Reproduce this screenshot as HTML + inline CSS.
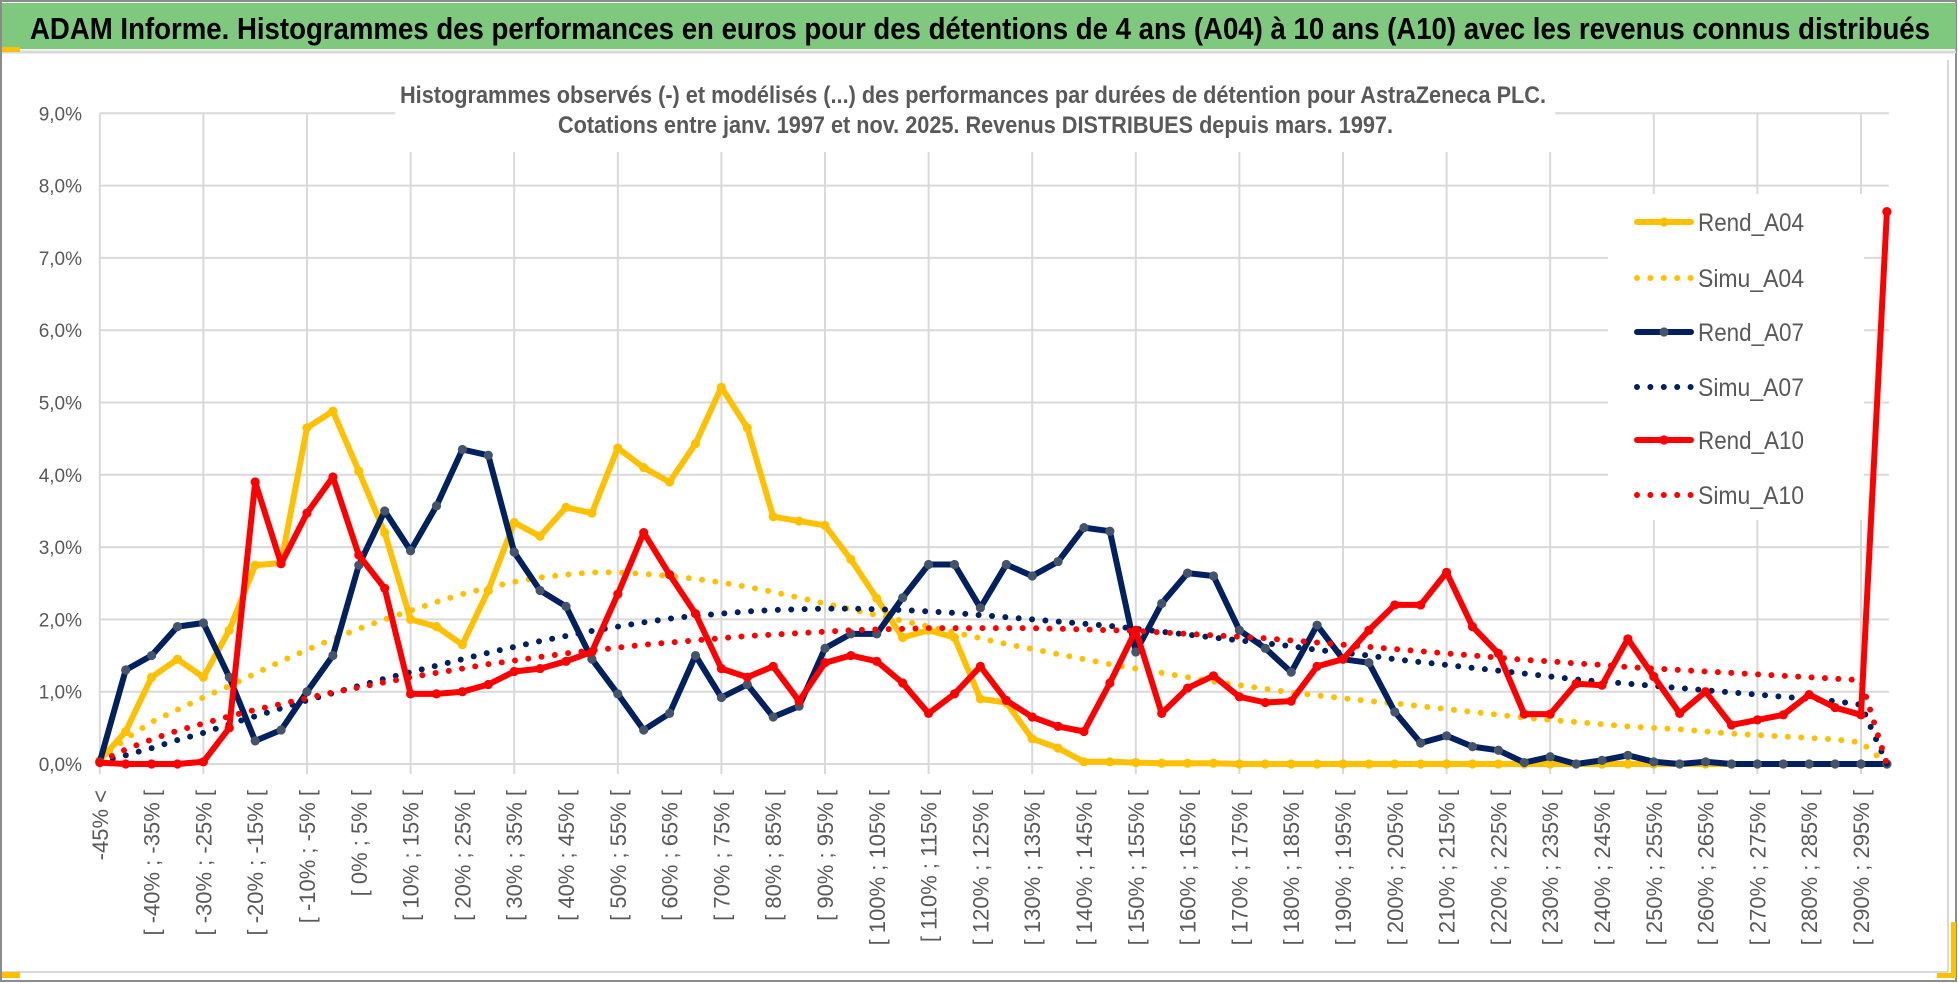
<!DOCTYPE html>
<html><head><meta charset="utf-8">
<style>
html,body{margin:0;padding:0;background:#fff;}
svg{display:block;font-family:"Liberation Sans",sans-serif;}
</style></head>
<body>
<svg id="chart" width="1958" height="983" viewBox="0 0 1958 983" xmlns="http://www.w3.org/2000/svg">
  <rect x="0" y="0" width="1958" height="983" fill="#fff"/>
  <rect x="1" y="1" width="1955" height="980" fill="none" stroke="#8c8c8c" stroke-width="2"/>
  <rect x="2" y="3" width="1954" height="46" fill="#7ec97e"/>
  <line x1="2" y1="52" x2="1956" y2="52" stroke="#d9d9d9" stroke-width="3"/>
  <rect x="2" y="47" width="18" height="5" fill="#ffc000"/>
  <line x1="2" y1="972" x2="1948" y2="972" stroke="#d9d9d9" stroke-width="2"/>
  <line x1="1948" y1="60" x2="1948" y2="972" stroke="#d9d9d9" stroke-width="2"/>
  <rect x="2" y="972" width="18" height="6" fill="#ffc000"/>
  <rect x="1951" y="922" width="5" height="56" fill="#ffc000"/>
  <rect x="1937" y="973" width="19" height="5" fill="#ffc000"/>
  <text x="30" y="39" font-size="31" font-weight="bold" fill="#000" textLength="1900" lengthAdjust="spacingAndGlyphs">ADAM Informe. Histogrammes des performances en euros pour des détentions de 4 ans (A04) à 10 ans (A10) avec les revenus connus distribués</text>
  <g id="grid"></g>
  <g id="yaxis"></g>
  <g id="xaxis"></g>
  <g id="series"></g>
  <rect x="395" y="74" width="1160" height="78" fill="#fff"/>
  <text x="400" y="103" font-size="24" font-weight="bold" fill="#595959" textLength="1146" lengthAdjust="spacingAndGlyphs">Histogrammes observés (-) et modélisés (...) des performances par durées de détention pour AstraZeneca PLC.</text>
  <text x="558" y="133" font-size="24" font-weight="bold" fill="#595959" textLength="835" lengthAdjust="spacingAndGlyphs">Cotations entre janv. 1997 et nov. 2025. Revenus DISTRIBUES depuis mars. 1997.</text>
  <g id="legend"></g>
</svg>
<script>
const categories = ["-45% <","[ -45% ; -40% [","[ -40% ; -35% [","[ -35% ; -30% [","[ -30% ; -25% [","[ -25% ; -20% [","[ -20% ; -15% [","[ -15% ; -10% [","[ -10% ; -5% [","[ -5% ; 0% [",
"[ 0% ; 5% [","[ 5% ; 10% [","[ 10% ; 15% [","[ 15% ; 20% [","[ 20% ; 25% [","[ 25% ; 30% [","[ 30% ; 35% [","[ 35% ; 40% [","[ 40% ; 45% [","[ 45% ; 50% [",
"[ 50% ; 55% [","[ 55% ; 60% [","[ 60% ; 65% [","[ 65% ; 70% [","[ 70% ; 75% [","[ 75% ; 80% [","[ 80% ; 85% [","[ 85% ; 90% [","[ 90% ; 95% [","[ 95% ; 100% [",
"[ 100% ; 105% [","[ 105% ; 110% [","[ 110% ; 115% [","[ 115% ; 120% [","[ 120% ; 125% [","[ 125% ; 130% [","[ 130% ; 135% [","[ 135% ; 140% [","[ 140% ; 145% [","[ 145% ; 150% [",
"[ 150% ; 155% [","[ 155% ; 160% [","[ 160% ; 165% [","[ 165% ; 170% [","[ 170% ; 175% [","[ 175% ; 180% [","[ 180% ; 185% [","[ 185% ; 190% [","[ 190% ; 195% [","[ 195% ; 200% [",
"[ 200% ; 205% [","[ 205% ; 210% [","[ 210% ; 215% [","[ 215% ; 220% [","[ 220% ; 225% [","[ 225% ; 230% [","[ 230% ; 235% [","[ 235% ; 240% [","[ 240% ; 245% [","[ 245% ; 250% [",
"[ 250% ; 255% [","[ 255% ; 260% [","[ 260% ; 265% [","[ 265% ; 270% [","[ 270% ; 275% [","[ 275% ; 280% [","[ 280% ; 285% [","[ 285% ; 290% [","[ 290% ; 295% [","[ 295% ; 300% ["];
const yTicks = [0,1,2,3,4,5,6,7,8,9];
const yTickLabels = ["0,0%","1,0%","2,0%","3,0%","4,0%","5,0%","6,0%","7,0%","8,0%","9,0%"];
const rendA04 = [0.05,0.45,1.2,1.45,1.2,1.85,2.75,2.78,4.65,4.88,4.05,3.2,2.0,1.9,1.65,2.4,3.34,3.15,3.55,3.47,4.37,4.1,3.9,4.43,5.21,4.65,3.42,3.36,3.3,2.83,2.29,1.75,1.85,1.75,0.9,0.85,0.35,0.22,0.03,0.03,0.02,0.01,0.01,0.01,0,0,0,0,0,0,0,0,0,0,0,0,0,0,0,0,0,0,0,0,0,0,0,0,0,0];
const simuA04 = [0.05,0.35,0.58,0.75,0.92,1.08,1.25,1.42,1.58,1.73,1.87,2.0,2.12,2.24,2.35,2.44,2.52,2.58,2.62,2.65,2.65,2.63,2.6,2.56,2.51,2.45,2.38,2.3,2.22,2.14,2.06,1.98,1.9,1.82,1.74,1.66,1.59,1.52,1.45,1.38,1.32,1.26,1.2,1.14,1.09,1.04,0.99,0.95,0.91,0.87,0.84,0.8,0.76,0.72,0.68,0.64,0.61,0.58,0.55,0.52,0.5,0.48,0.45,0.42,0.4,0.38,0.36,0.34,0.3,0.0];
const rendA07 = [0.03,1.3,1.5,1.9,1.95,1.2,0.32,0.47,1.0,1.5,2.75,3.5,2.95,3.57,4.35,4.27,2.93,2.4,2.18,1.45,0.97,0.47,0.7,1.5,0.92,1.1,0.65,0.8,1.6,1.8,1.8,2.3,2.76,2.76,2.16,2.76,2.6,2.8,3.27,3.22,1.55,2.22,2.64,2.6,1.85,1.6,1.27,1.92,1.45,1.4,0.72,0.29,0.39,0.24,0.19,0.02,0.1,0,0.05,0.12,0.03,0,0.03,0,0,0,0,0,0,0];
const simuA07 = [0.03,0.12,0.22,0.33,0.43,0.55,0.66,0.77,0.88,0.98,1.08,1.18,1.27,1.36,1.45,1.54,1.62,1.7,1.77,1.84,1.9,1.96,2.01,2.05,2.08,2.11,2.13,2.14,2.15,2.15,2.14,2.13,2.11,2.09,2.06,2.03,2.0,1.97,1.94,1.91,1.87,1.83,1.79,1.75,1.71,1.67,1.63,1.58,1.54,1.5,1.45,1.41,1.37,1.33,1.29,1.25,1.21,1.17,1.14,1.11,1.08,1.05,1.02,0.99,0.96,0.93,0.9,0.87,0.82,0.0];
const rendA10 = [0.02,0,0,0,0.03,0.5,3.9,2.77,3.47,3.97,2.89,2.43,0.97,0.97,1.0,1.1,1.28,1.32,1.42,1.55,2.35,3.2,2.62,2.08,1.32,1.2,1.35,0.87,1.4,1.5,1.42,1.12,0.7,0.97,1.35,0.88,0.65,0.52,0.45,1.12,1.85,0.7,1.05,1.22,0.93,0.85,0.87,1.35,1.45,1.85,2.2,2.2,2.65,1.9,1.53,0.69,0.69,1.11,1.09,1.73,1.21,0.7,1.0,0.54,0.61,0.68,0.96,0.78,0.68,7.64];
const simuA10 = [0.03,0.2,0.34,0.46,0.56,0.66,0.75,0.83,0.91,0.99,1.06,1.13,1.2,1.26,1.32,1.38,1.43,1.48,1.53,1.57,1.61,1.65,1.68,1.71,1.74,1.77,1.79,1.81,1.83,1.85,1.86,1.87,1.88,1.88,1.88,1.88,1.88,1.87,1.86,1.85,1.84,1.82,1.8,1.78,1.76,1.74,1.71,1.68,1.65,1.62,1.59,1.56,1.53,1.5,1.47,1.44,1.42,1.39,1.37,1.34,1.32,1.3,1.28,1.26,1.24,1.22,1.2,1.18,1.16,0.0];

const NS = "http://www.w3.org/2000/svg";
const X0 = 99.8, STEP = 25.9, Y0 = 764, PXPER = 72.3;
function xScale(i){ return X0 + i*STEP; }
function yScale(v){ return Y0 - v*PXPER; }
function mk(tag, attrs, parent){
  const e = document.createElementNS(NS, tag);
  for (const k in attrs) e.setAttribute(k, attrs[k]);
  parent.appendChild(e);
  return e;
}
const grid = document.getElementById('grid');
const yaxis = document.getElementById('yaxis');
const xaxis = document.getElementById('xaxis');
const series = document.getElementById('series');
const legend = document.getElementById('legend');
const xEnd = xScale(categories.length-1);

// horizontal gridlines + y labels
yTicks.forEach((t, k) => {
  const y = yScale(t);
  const l = mk('line', {x1: X0, y1: y, x2: xEnd+2, y2: y, stroke: '#d9d9d9', 'stroke-width': 2}, grid);
  
  
  const tx = mk('text', {x: 82, y: y+7, 'text-anchor': 'end', 'font-size': 19, fill: '#595959'}, yaxis);
  tx.textContent = yTickLabels[k];
  
  
});
// vertical gridlines every 4 categories
for (let i = 0; i < categories.length; i += 4) {
  const x = xScale(i);
  const l = mk('line', {x1: x, y1: yScale(9), x2: x, y2: Y0+10, stroke: '#d9d9d9', 'stroke-width': 2}, grid);
  
  
}
// x labels (every other)
categories.forEach((c, i) => {
  if (i % 2 !== 0) return;
  const x = xScale(i) + 8, y = 790;
  const t = mk('text', {x: x, y: y, transform: `rotate(-90 ${x} ${y})`, 'text-anchor': 'end', 'font-size': 22, fill: '#595959'}, xaxis);
  t.textContent = c;
  
  
});

function pathD(vals){ return vals.map((v,i)=>(i?'L':'M')+xScale(i).toFixed(1)+' '+yScale(v).toFixed(1)).join(' '); }
function drawRend(vals, color, markColor, name){
  const g = mk('g', {}, series);
  
  
  const p = mk('path', {d: pathD(vals), fill: 'none', stroke: color, 'stroke-width': 6, 'stroke-linejoin': 'round'}, g);
  
  
  vals.forEach((v,i)=>{
    const c = mk('circle', {cx: xScale(i), cy: yScale(v), r: 4.6, fill: markColor}, g);
    
    
  });
}
function drawSimu(vals, color, name){
  const p = mk('path', {d: pathD(vals), fill: 'none', stroke: color, 'stroke-width': 6, 'stroke-linecap': 'round', 'stroke-dasharray': '0 13.4'}, series);
  
  
}
drawRend(rendA04, '#ffc000', '#ffc000', 'rend-a04-series');
drawSimu(simuA04, '#ffc000', 'simu-a04-series');
drawRend(rendA07, '#002060', '#44546a', 'rend-a07-series');
drawSimu(simuA07, '#002060', 'simu-a07-series');
drawRend(rendA10, '#ff0000', '#ff0000', 'rend-a10-series');
drawSimu(simuA10, '#ff0000', 'simu-a10-series');

// legend
const legendNames = ["Rend_A04","Simu_A04","Rend_A07","Simu_A07","Rend_A10","Simu_A10"];
const legendColors = ["#ffc000","#ffc000","#002060","#002060","#ff0000","#ff0000"];
const legendMarks = ["#ffc000",null,"#44546a",null,"#ff0000",null];
const legendRowY = [222,278,332,387,440,495];
const lb = mk('rect', {x: 1608, y: 194, width: 256, height: 326, fill: '#fff'}, legend);


legendNames.forEach((n, k) => {
  const y = legendRowY[k];
  const g = mk('g', {}, legend);
  
  
  if (legendMarks[k]) {
    mk('line', {x1: 1637, y1: y, x2: 1691, y2: y, stroke: legendColors[k], 'stroke-width': 6, 'stroke-linecap': 'round'}, g);
    mk('circle', {cx: 1664, cy: y, r: 4.6, fill: legendMarks[k]}, g);
  } else {
    mk('line', {x1: 1637, y1: y, x2: 1691, y2: y, stroke: legendColors[k], 'stroke-width': 6, 'stroke-linecap': 'round', 'stroke-dasharray': '0 13.4'}, g);
  }
  const t = mk('text', {x: 1698, y: y+9, 'font-size': 25, fill: '#595959', textLength: 106, lengthAdjust: 'spacingAndGlyphs'}, g);
  t.textContent = n;
  
  
});
</script>
</body></html>
